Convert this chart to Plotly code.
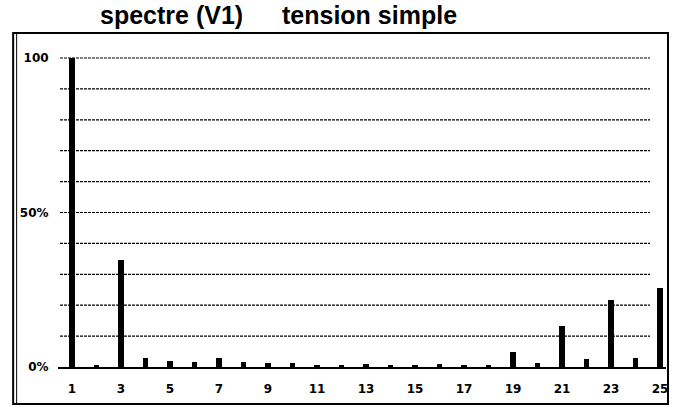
import plotly.graph_objects as go

# Harmonic spectrum of the simple voltage V1 (percentage of the fundamental)
harmonics = list(range(1, 26))
amplitude_pct = [100, 0.8, 34.6, 3.0, 2.0, 1.5, 3.0, 1.5, 1.3, 1.2,
                 0.6, 0.4, 0.9, 0.4, 0.7, 1.0, 0.5, 0.8, 4.9, 1.3,
                 13.3, 2.6, 21.7, 2.9, 25.6]

x_tick_vals = list(range(1, 26, 2))
x_tick_text = [str(v) for v in x_tick_vals]
y_tick_vals = [0, 50, 100]
y_tick_text = ["0%", "50%", "100"]
grid_levels = [10, 20, 30, 40, 50, 60, 70, 80, 90, 100]

W, H = 677, 407
L, R, T, B = 58, 9, 50, 40
pw, ph = W - L - R, H - T - B


def px_x(p):
    return (p - L) / pw


def px_y(p):
    return (H - B - p) / ph


tick_font = dict(family="DejaVu Sans", size=12, color="black", weight="bold")

fig = go.Figure()
fig.add_trace(go.Bar(
    x=harmonics, y=amplitude_pct, width=0.24,
    marker=dict(color="black", line=dict(width=0)),
    hoverinfo="x+y",
))

shapes = []
# dotted horizontal guides
for g in grid_levels:
    shapes.append(dict(type="line", xref="paper", yref="y",
                       x0=px_x(60), x1=px_x(652), y0=g, y1=g,
                       line=dict(color="black", width=1.2, dash="3px,1px"),
                       layer="below"))
# outer frame
shapes.append(dict(type="rect", xref="paper", yref="paper",
                   x0=px_x(13), x1=px_x(670), y0=px_y(404), y1=px_y(33),
                   line=dict(color="black", width=2)))
shapes.append(dict(type="line", xref="paper", yref="paper",
                   x0=px_x(16.5), x1=px_x(16.5), y0=px_y(403), y1=px_y(34),
                   line=dict(color="black", width=1)))

title_font = dict(family="Liberation Sans", size=25, color="black", weight="bold")
annotations = [
    dict(text="spectre (V1)", xref="paper", yref="paper",
         x=px_x(98), y=px_y(15), xanchor="left", yanchor="middle",
         showarrow=False, font=title_font),
    dict(text="tension simple", xref="paper", yref="paper",
         x=px_x(281), y=px_y(15), xanchor="left", yanchor="middle",
         showarrow=False, font=title_font),
]

fig.update_layout(
    width=W, height=H,
    margin=dict(l=L, r=R, t=T, b=B, pad=0),
    paper_bgcolor="white", plot_bgcolor="white",
    showlegend=False, bargap=0,
    shapes=shapes, annotations=annotations,
    xaxis=dict(range=[0.43, 25.244], tickvals=x_tick_vals, ticktext=x_tick_text,
               showgrid=False, zeroline=False, showline=True,
               linecolor="black", linewidth=2,
               ticks="outside", ticklen=10, tickcolor="rgba(0,0,0,0)",
               tickfont=tick_font),
    yaxis=dict(range=[0, ph / 3.09], tickvals=y_tick_vals, ticktext=y_tick_text,
               showgrid=False, zeroline=False, showline=False,
               ticks="outside", ticklen=6, tickcolor="rgba(0,0,0,0)",
               tickfont=tick_font),
)

fig.write_html("out.html")
